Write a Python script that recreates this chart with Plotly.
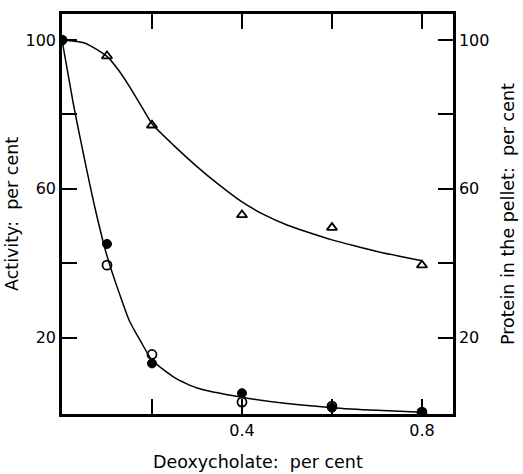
import plotly.graph_objects as go

# Deoxycholate concentration (per cent)
x_pts = [0.0, 0.1, 0.2, 0.4, 0.6, 0.8]
# Protein in the pellet (triangles, right axis)
protein_y = [100, 95.7, 77.1, 53.0, 49.6, 39.5]
# Activity, open circles
act_open_y = [100, 39.5, 15.5, 2.7, 1.6, 0.0]
# Activity, filled circles
act_filled_y = [100, 45.2, 13.1, 5.1, 1.2, 0.0]

# Hand-drawn fitted curves
protein_curve_x = [0.0, 0.05, 0.1, 0.125, 0.15, 0.175, 0.2, 0.25, 0.3, 0.35, 0.4,
                   0.45, 0.5, 0.55, 0.6, 0.65, 0.7, 0.75, 0.8]
protein_curve_y = [100, 99.2, 95.6, 92.0, 87.5, 82.5, 77.5, 71.5, 66.0, 61.0, 56.5,
                   53.0, 50.3, 48.2, 46.3, 44.7, 43.2, 41.9, 40.7]
act_curve_x = [0.0, 0.025, 0.05, 0.075, 0.1, 0.133, 0.15, 0.175, 0.2, 0.25, 0.3, 0.4,
               0.5, 0.6, 0.7, 0.8]
act_curve_y = [100, 83, 68, 54, 42, 30, 24.5, 19, 14, 9.3, 6.5, 4.0, 2.3, 1.2, 0.5, 0.0]

x_ticks = [0.2, 0.4, 0.6, 0.8]
x_ticktext = ["", "0.4", "", "0.8"]
y_ticks = [20, 40, 60, 80, 100]
y_ticktext = ["20", "", "60", "", "100"]

FONT = "DejaVu Sans"
fig = go.Figure()

fig.add_trace(go.Scatter(x=act_curve_x, y=act_curve_y, mode="lines",
                         line=dict(color="black", width=1.5, shape="spline", smoothing=0.6),
                         showlegend=False))
fig.add_trace(go.Scatter(x=protein_curve_x, y=protein_curve_y, mode="lines",
                         line=dict(color="black", width=1.5, shape="spline", smoothing=0.6),
                         showlegend=False, yaxis="y2"))
fig.add_trace(go.Scatter(x=x_pts, y=act_filled_y, mode="markers",
                         marker=dict(symbol="circle", size=9, color="black",
                                     line=dict(color="black", width=1)),
                         showlegend=False))
fig.add_trace(go.Scatter(x=x_pts, y=act_open_y, mode="markers",
                         marker=dict(symbol="circle-open", size=9, color="black",
                                     line=dict(color="black", width=1.8)),
                         showlegend=False))
fig.add_trace(go.Scatter(x=x_pts[1:], y=protein_y[1:], mode="markers",
                         marker=dict(symbol="triangle-up-open", size=9, color="black",
                                     line=dict(color="black", width=1.8)),
                         showlegend=False, yaxis="y2"))

axis_common = dict(showgrid=False, zeroline=False, showline=True, linecolor="black",
                   linewidth=2.5, ticks="inside", ticklen=15, tickwidth=1.5,
                   tickcolor="black", tickfont=dict(family=FONT, size=16, color="black"))

fig.update_layout(
    width=523, height=474,
    margin=dict(l=62, r=70, t=11, b=60),
    paper_bgcolor="white", plot_bgcolor="white",
    xaxis=dict(range=[0, 0.869], tickvals=x_ticks, ticktext=x_ticktext,
               mirror="ticks", **axis_common),
    yaxis=dict(range=[-0.5, 107], tickvals=y_ticks, ticktext=y_ticktext, **axis_common),
    yaxis2=dict(range=[-0.5, 107], tickvals=y_ticks, ticktext=y_ticktext,
                overlaying="y", side="right", **axis_common),
    annotations=[
        dict(text="Deoxycholate:  per cent", xref="paper", yref="paper", x=0.5, y=0,
             yshift=-48, showarrow=False, yanchor="middle",
             font=dict(family=FONT, size=17.5, color="black")),
        dict(text="Activity:  per cent", xref="paper", yref="paper", x=0, y=0.5,
             xshift=-50, textangle=-90, showarrow=False, xanchor="center",
             font=dict(family=FONT, size=17.5, color="black")),
        dict(text="Protein in the pellet:  per cent", xref="paper", yref="paper", x=1, y=0.5,
             xshift=55, textangle=-90, showarrow=False, xanchor="center",
             font=dict(family=FONT, size=17.5, color="black")),
    ],
)

fig.write_html("out.html")
